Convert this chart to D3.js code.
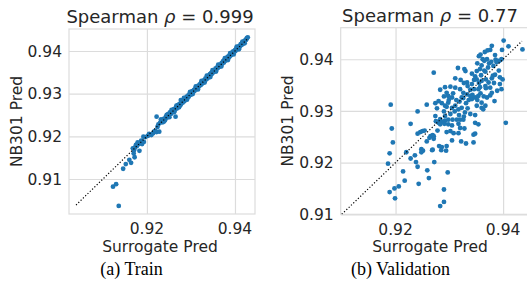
<!DOCTYPE html>
<html>
<head>
<meta charset="utf-8">
<script src="https://cdn.jsdelivr.net/npm/d3@7"></script>
<style>
  html, body { margin: 0; padding: 0; background: #ffffff; }
  svg { display: block; }
</style>
</head>
<body>
<svg id="chart" width="527" height="297"></svg>
<script>
// ---------------- DATA ----------------
const titlePrefix = "Spearman ";
const titleSymbol = "\u03C1";
const titleValues = ["0.999", "0.77"];
const captions = ["(a) Train", "(b) Validation"];
const xAxisLabel = "Surrogate Pred";
const yAxisLabel = "NB301 Pred";
const xTicks = [0.92, 0.94];
const yTicks = [0.91, 0.92, 0.93, 0.94];

// Train panel: [surrogate, nb301]
const trainPoints = [
  [0.9136,0.9037],[0.9123,0.9082],[0.9130,0.9088],[0.9146,0.9124],[0.9152,0.9135],
  [0.9160,0.9145],[0.9164,0.9138],[0.9172,0.9151],[0.9170,0.9160],[0.9171,0.9168],
  [0.9173,0.9174],[0.9177,0.9177],[0.9183,0.9166],[0.9181,0.9182],[0.9185,0.9184],
  [0.9189,0.9182],[0.9187,0.9190],[0.9193,0.9187],[0.9192,0.9199],[0.9196,0.9198],
  [0.9202,0.9201],[0.9205,0.9206],[0.9210,0.9203],[0.9214,0.9207],[0.9216,0.9211],
  [0.9219,0.9213],[0.9222,0.9210],[0.9168,0.9172],[0.9175,0.9180],[0.9179,0.9186],
  [0.9224,0.9222],[0.9226,0.9228],[0.9222,0.9246],[0.9228,0.9211],[0.9230,0.9232],
  [0.9233,0.9236],[0.9236,0.9233],[0.9238,0.9241],[0.9241,0.9238],[0.9243,0.9246],
  [0.9246,0.9244],[0.9248,0.9252],[0.9250,0.9249],[0.9252,0.9256],[0.9255,0.9253],
  [0.9257,0.9261],[0.9259,0.9257],[0.9261,0.9264],[0.9263,0.9260],[0.9265,0.9246],
  [0.9266,0.9268],[0.9268,0.9265],[0.9270,0.9273],[0.9272,0.9270],[0.9274,0.9276],
  [0.9277,0.9285],[0.9276,0.9273],[0.9279,0.9281],[0.9281,0.9279],
  [0.9232,0.9240],[0.9239,0.9235],[0.9245,0.9250],[0.9251,0.9245],[0.9256,0.9262],
  [0.9262,0.9257],[0.9267,0.9272],[0.9273,0.9268],[0.9278,0.9277],
  [0.9283,0.9285],[0.9285,0.9282],[0.9287,0.9289],[0.9289,0.9287],[0.9290,0.9293],
  [0.9292,0.9290],[0.9294,0.9296],[0.9295,0.9293],[0.9297,0.9300],[0.9299,0.9297],
  [0.9300,0.9303],[0.9302,0.9300],[0.9303,0.9306],[0.9305,0.9304],[0.9307,0.9309],
  [0.9308,0.9306],[0.9310,0.9312],[0.9312,0.9310],[0.9313,0.9316],[0.9315,0.9313],
  [0.9317,0.9319],[0.9318,0.9317],[0.9320,0.9322],[0.9322,0.9320],[0.9323,0.9326],
  [0.9325,0.9323],[0.9327,0.9329],[0.9328,0.9327],[0.9330,0.9332],[0.9332,0.9330],
  [0.9333,0.9336],[0.9335,0.9334],[0.9337,0.9339],[0.9338,0.9336],[0.9340,0.9342],
  [0.9342,0.9340],[0.9343,0.9346],[0.9345,0.9344],[0.9346,0.9349],[0.9348,0.9347],
  [0.9350,0.9352],[0.9351,0.9350],[0.9353,0.9355],[0.9355,0.9353],[0.9356,0.9359],
  [0.9358,0.9357],[0.9360,0.9362],[0.9361,0.9360],[0.9363,0.9366],[0.9365,0.9363],
  [0.9366,0.9368],[0.9368,0.9367],[0.9370,0.9372],[0.9371,0.9370],[0.9373,0.9376],
  [0.9375,0.9373],[0.9376,0.9378],[0.9378,0.9377],[0.9380,0.9382],[0.9381,0.9380],
  [0.9383,0.9386],[0.9385,0.9383],[0.9386,0.9388],[0.9388,0.9387],[0.9390,0.9393],
  [0.9391,0.9390],[0.9393,0.9396],[0.9395,0.9394],[0.9396,0.9399],[0.9398,0.9397],
  [0.9400,0.9402],[0.9401,0.9400],[0.9403,0.9406],[0.9405,0.9404],[0.9406,0.9409],
  [0.9408,0.9407],[0.9410,0.9412],[0.9411,0.9410],[0.9413,0.9416],[0.9415,0.9414],
  [0.9416,0.9419],[0.9418,0.9417],[0.9420,0.9422],[0.9421,0.9421],[0.9423,0.9425],
  [0.9425,0.9426],[0.9427,0.9430],
  [0.9284,0.9290],[0.9291,0.9286],[0.9298,0.9304],[0.9304,0.9299],[0.9311,0.9317],
  [0.9316,0.9310],[0.9324,0.9330],[0.9331,0.9326],[0.9336,0.9342],[0.9344,0.9339],
  [0.9349,0.9355],[0.9357,0.9352],[0.9362,0.9368],[0.9369,0.9364],[0.9377,0.9383],
  [0.9384,0.9379],[0.9389,0.9395],[0.9397,0.9392],[0.9404,0.9410],[0.9409,0.9404],
  [0.9417,0.9422],[0.9422,0.9418],[0.9426,0.9428],[0.9429,0.9432]
];

// Validation panel: [surrogate, nb301]
const valPoints = [
  [0.9401,0.9436],[0.9436,0.9419],[0.9410,0.9425],[0.9398,0.9418],[0.9379,0.9426],
  [0.9376,0.9418],[0.9371,0.9417],[0.9366,0.9414],[0.9358,0.9409],[0.9355,0.9406],
  [0.9362,0.9400],[0.9365,0.9397],[0.9370,0.9400],[0.9374,0.9392],[0.9386,0.9399],
  [0.9390,0.9397],[0.9393,0.9397],[0.9397,0.9400],[0.9388,0.9394],[0.9382,0.9387],
  [0.9399,0.9361],[0.9394,0.9352],[0.9397,0.9342],[0.9384,0.9319],[0.9316,0.9383],
  [0.9328,0.9381],[0.9330,0.9377],[0.9271,0.9374],[0.9351,0.9377],[0.9357,0.9381],
  [0.9367,0.9376],[0.9359,0.9369],[0.9351,0.9361],[0.9360,0.9358],[0.9368,0.9361],
  [0.9373,0.9355],[0.9379,0.9363],[0.9381,0.9368],[0.9311,0.9363],[0.9333,0.9355],
  [0.9334,0.9348],[0.9342,0.9352],[0.9346,0.9342],[0.9354,0.9342],[0.9367,0.9348],
  [0.9376,0.9345],[0.9379,0.9335],[0.9292,0.9346],[0.9283,0.9341],[0.9295,0.9335],
  [0.9298,0.9329],[0.9305,0.9326],[0.9311,0.9345],[0.9320,0.9342],[0.9326,0.9335],
  [0.9323,0.9326],[0.9333,0.9332],[0.9339,0.9329],[0.9342,0.9323],[0.9348,0.9326],
  [0.9354,0.9329],[0.9360,0.9316],[0.9367,0.9310],[0.9370,0.9326],[0.9376,0.9330],
  [0.9389,0.9339],[0.9280,0.9319],[0.9286,0.9315],[0.9292,0.9310],[0.9298,0.9316],
  [0.9305,0.9306],[0.9311,0.9310],[0.9317,0.9303],[0.9323,0.9306],[0.9329,0.9297],
  [0.9339,0.9294],[0.9348,0.9292],[0.9302,0.9294],[0.9283,0.9284],[0.9292,0.9290],
  [0.9274,0.9290],[0.9351,0.9310],[0.9360,0.9306],[0.9363,0.9303],
  [0.9275,0.9280],[0.9280,0.9277],[0.9286,0.9279],[0.9292,0.9281],[0.9298,0.9283],
  [0.9306,0.9283],[0.9314,0.9283],[0.9320,0.9283],[0.9326,0.9283],[0.9283,0.9274],
  [0.9291,0.9275],[0.9298,0.9274],[0.9305,0.9272],[0.9317,0.9275],[0.9348,0.9277],
  [0.9354,0.9274],[0.9278,0.9262],[0.9295,0.9259],[0.9302,0.9261],[0.9308,0.9257],
  [0.9317,0.9257],[0.9328,0.9266],[0.9320,0.9267],[0.9345,0.9254],[0.9348,0.9256],
  [0.9271,0.9251],[0.9305,0.9243],[0.9322,0.9241],[0.9331,0.9237],[0.9345,0.9239],
  [0.9281,0.9232],[0.9286,0.9230],[0.9295,0.9232],[0.9285,0.9224],[0.9294,0.9223],
  [0.9269,0.9225],[0.9405,0.9277],[0.9272,0.9201],[0.9297,0.9181],[0.9290,0.9148],
  [0.9290,0.9124],[0.9283,0.9116],
  [0.9193,0.9266],[0.9195,0.9239],[0.9189,0.9218],[0.9186,0.9198],[0.9228,0.9275],
  [0.9241,0.9256],[0.9246,0.9259],[0.9250,0.9261],[0.9254,0.9262],[0.9265,0.9251],
  [0.9269,0.9253],[0.9263,0.9248],[0.9271,0.9246],[0.9258,0.9241],[0.9220,0.9220],
  [0.9236,0.9214],[0.9228,0.9208],[0.9238,0.9201],[0.9241,0.9192],[0.9248,0.9226],
  [0.9251,0.9223],[0.9248,0.9220],[0.9268,0.9224],[0.9214,0.9183],[0.9217,0.9165],
  [0.9206,0.9154],[0.9198,0.9150],[0.9189,0.9143],[0.9199,0.9131],[0.9243,0.9159],
  [0.9259,0.9185],[0.9262,0.9170],
  [0.9191,0.9312],[0.9258,0.9312],[0.9241,0.9299],
  [0.9290,0.9328],[0.9299,0.9321],[0.9307,0.9334],[0.9313,0.9321],[0.9319,0.9318],
  [0.9326,0.9325],[0.9331,0.9315],[0.9336,0.9321],[0.9343,0.9331],[0.9352,0.9321],
  [0.9358,0.9334],[0.9364,0.9328],[0.9339,0.9341],[0.9327,0.9354],[0.9321,0.9360],
  [0.9346,0.9360],[0.9355,0.9354],[0.9368,0.9344],[0.9383,0.9354],[0.9302,0.9347],
  [0.9295,0.9308],[0.9310,0.9299],[0.9318,0.9292],[0.9327,0.9289],[0.9334,0.9305],
  [0.9290,0.9299],[0.9277,0.9305],[0.9274,0.9315],
  [0.9352,0.9392],[0.9360,0.9388],[0.9372,0.9384],[0.9385,0.9408],[0.9392,0.9378],
  [0.9378,0.9395],[0.9365,0.9378],[0.9348,0.9367],[0.9342,0.9372],[0.9357,0.9346],
  [0.9385,0.9370],[0.9394,0.9365]
];

// identity reference line endpoints (value range)
const trainDiag = [0.9039, 0.9430];
const valDiag = [0.9100, 0.9435];

// ---------------- LAYOUT ----------------
const svg = d3.select("#chart");
const textColor = "#262626";
const gridColor = "#dcdcdc";
const dotColor = "#1f77b4";
const sansFont = "'DejaVu Sans', sans-serif";

const panels = [
  {
    points: trainPoints, diag: trainDiag, value: titleValues[0], caption: captions[0],
    xDomain: [0.9023, 0.94455], xRange: [69, 255],
    yDomain: [0.9018, 0.94516], yRange: [214, 29],
    titleX: 160, titleY: 23, yLabelX: 21.5, xTickY: 233.5, xLabelY: 251.5,
    captionX: 131.5, clipId: "clipA"
  },
  {
    points: valPoints, diag: valDiag, value: titleValues[1], caption: captions[1],
    xDomain: [0.9098, 0.9450], xRange: [340.7, 530],
    yDomain: [0.9100, 0.9461], yRange: [214.3, 27.7],
    titleX: 430, titleY: 21.7, yLabelX: 293, xTickY: 234.5, xLabelY: 252,
    captionX: 400.5, clipId: "clipB"
  }
];

const defs = svg.append("defs");

panels.forEach(p => {
  const x = d3.scaleLinear().domain(p.xDomain).range(p.xRange);
  const y = d3.scaleLinear().domain(p.yDomain).range(p.yRange);
  const g = svg.append("g");
  const x0 = p.xRange[0], x1 = p.xRange[1], yTop = p.yRange[1], yBot = p.yRange[0];

  defs.append("clipPath").attr("id", p.clipId)
    .append("rect").attr("x", x0).attr("y", yTop).attr("width", x1 - x0).attr("height", yBot - yTop);

  // grid lines via axes
  const gx = g.append("g").attr("transform", `translate(0,${yBot})`)
    .call(d3.axisBottom(x).tickValues(xTicks).tickSize(-(yBot - yTop)).tickFormat(d3.format(".2f")));
  gx.select(".domain").remove();
  gx.selectAll(".tick line").attr("stroke", gridColor).attr("stroke-width", 1.2);
  gx.selectAll(".tick text").remove();

  const gy = g.append("g").attr("transform", `translate(${x0},0)`)
    .call(d3.axisLeft(y).tickValues(yTicks).tickSize(-(x1 - x0)).tickFormat(d3.format(".2f")));
  gy.select(".domain").remove();
  gy.selectAll(".tick line").attr("stroke", gridColor).attr("stroke-width", 1.2);
  gy.selectAll(".tick text").remove();

  // frame
  g.append("rect").attr("x", x0).attr("y", yTop).attr("width", x1 - x0).attr("height", yBot - yTop)
    .attr("fill", "none").attr("stroke", gridColor).attr("stroke-width", 1.2);

  // tick labels
  g.selectAll(".xt").data(xTicks).enter().append("text")
    .attr("x", d => x(d)).attr("y", p.xTickY).attr("text-anchor", "middle")
    .attr("font-family", sansFont).attr("font-size", 15.5).attr("fill", textColor)
    .text(d => d3.format(".2f")(d));
  g.selectAll(".yt").data(yTicks).enter().append("text")
    .attr("x", x0 - 7).attr("y", d => y(d)).attr("dy", "0.36em").attr("text-anchor", "end")
    .attr("font-family", sansFont).attr("font-size", 15.5).attr("fill", textColor)
    .text(d => d3.format(".2f")(d));

  const plot = g.append("g").attr("clip-path", `url(#${p.clipId})`);

  // points
  plot.selectAll("circle").data(p.points).enter().append("circle")
    .attr("cx", d => x(d[0])).attr("cy", d => y(d[1])).attr("r", 2.4)
    .attr("fill", dotColor);

  // identity line
  plot.append("line")
    .attr("x1", x(p.diag[0])).attr("y1", y(p.diag[0]))
    .attr("x2", x(p.diag[1])).attr("y2", y(p.diag[1]))
    .attr("stroke", "#000").attr("stroke-width", 1.2).attr("stroke-dasharray", "1.2,2");

  // title with italic rho
  const t = g.append("text").attr("x", p.titleX).attr("y", p.titleY).attr("text-anchor", "middle")
    .attr("font-family", sansFont).attr("font-size", 18).attr("fill", textColor);
  t.append("tspan").text(titlePrefix);
  t.append("tspan").attr("font-style", "italic").text(titleSymbol);
  t.append("tspan").text(" = " + p.value);

  // axis labels
  g.append("text").attr("x", p.titleX).attr("y", p.xLabelY)
    .attr("text-anchor", "middle").attr("font-family", sansFont).attr("font-size", 15.5)
    .attr("fill", textColor).text(xAxisLabel);
  g.append("text").attr("transform", `translate(${p.yLabelX},${(yTop + yBot) / 2}) rotate(-90)`)
    .attr("text-anchor", "middle").attr("font-family", sansFont).attr("font-size", 15.5)
    .attr("fill", textColor).text(yAxisLabel);

  // caption
  g.append("text").attr("x", p.captionX).attr("y", 274.5).attr("text-anchor", "middle")
    .attr("font-family", "'Liberation Serif', 'Times New Roman', serif").attr("font-size", 18)
    .attr("fill", "#000").text(p.caption);
});
</script>
</body>
</html>
